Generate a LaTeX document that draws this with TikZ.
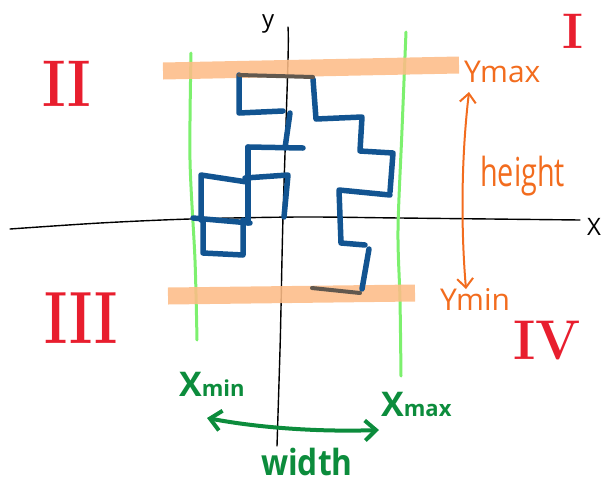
\documentclass[tikz,border=0pt]{standalone}
\usepackage{fontspec}
\setsansfont{Open Sans}
\usetikzlibrary{arrows.meta}
\definecolor{bandor}{RGB}{253,188,135}
\definecolor{lgreen}{RGB}{125,240,110}
\definecolor{dblue}{RGB}{18,84,145}
\definecolor{grayb}{RGB}{98,88,78}
\definecolor{ored}{RGB}{232,30,46}
\definecolor{otext}{RGB}{242,108,30}
\definecolor{gtext}{RGB}{12,140,60}
\begin{document}
\begin{tikzpicture}[x=1pt,y=-1pt,
  axis/.style={line width=1.4pt, black, line cap=round},
  band/.style={line width=17pt, bandor, opacity=0.88},
  gline/.style={line width=3pt, lgreen, line cap=round},
  blk/.style={line width=5.5pt, dblue, line cap=round, line join=round},
  gry/.style={line width=4pt, grayb, line cap=round},
  roman/.style={ored, inner sep=0, anchor=base west, font=\bfseries\fontsize{#1}{#1}\selectfont},
  otxt/.style={otext, inner sep=0, anchor=base west, font=\sffamily\fontsize{#1}{#1}\selectfont},
  gtxt/.style={gtext, inner sep=0, anchor=base west, font=\sffamily\bfseries\fontsize{#1}{#1}\selectfont},
  ktxt/.style={black, inner sep=0, anchor=base west, font=\sffamily\fontsize{#1}{#1}\selectfont},
  oarrow/.style={otext, line width=2pt, line cap=round,
    {Straight Barb[length=9pt,width=16pt]}-{Straight Barb[length=9pt,width=16pt]}},
  garrow/.style={gtext, line width=4pt, line cap=round,
    {Straight Barb[length=11pt,width=20pt]}-{Straight Barb[length=11pt,width=20pt]}}
]
\useasboundingbox (0,0) rectangle (603,483);
% axes
\draw[axis] plot[smooth] coordinates {(10,229) (100,223) (190,219) (300,217) (400,218) (580,220)};
\draw[axis] plot[smooth] coordinates {(288,27) (288,60) (283,217) (281,308) (280,350) (277,446)};
\node[ktxt=24] (xlab) at (587,235) {X};
\node[ktxt=24] (ylab) at (262,27) {y};
% green bounds
\draw[gline] plot[smooth] coordinates {(191,53) (190,160) (195,260) (197,340)};
\draw[gline] plot[smooth] coordinates {(406,32) (402,130) (398,230) (400,300) (401,376)};
% orange bands
\draw[band] (163,71) -- (459,65);
\draw[band] (168,296) -- (415,293);
% blue shapes
\draw[blk] (239,75) -- (239,113) -- (283,111);
\draw[blk] (290,113) -- (285,148);
\draw[blk] (248,147) -- (303,148);
\draw[blk] (248,147) -- (248,223);
\draw[blk] (245,178) -- (288,175) -- (284,217);
\draw[blk] (201,220) -- (201,175) -- (247,182);
\draw[blk] (193,218) -- (250,223);
\draw[blk] (203,220) -- (203,253) -- (243,255) -- (243,220);
\draw[blk] (313,79) -- (316,119) -- (362,117) -- (360,151) -- (393,153) -- (390,192);
\draw[blk] (390,195) -- (339,190) -- (341,243) -- (365,245);
\draw[blk] (369,249) -- (362,289);
% gray segments
\draw[gry] (239,75) -- (313,77);
\draw[gry] (312,288) -- (360,293);
% quadrant numerals
\node[roman=50] (q1) at (562,48) {I};
\node[roman=66] (q2) at (42,106) {\scalebox{0.85}[1]{II}};
\node[roman=74] (q3) at (44,343) {\scalebox{0.75}[1]{III}};
\node[roman=56] (q4) at (513,359) {\scalebox{0.95}[1]{IV}};
% height
\node[otxt=30] (ymax) at (464,82) {Ymax};
\node[otxt=30] (ymin) at (440,310) {Ymin};
\node[otxt=40] (hgt) at (480,186) {\scalebox{0.72}[1]{height}};
\coordinate (hT) at (469,92);
\coordinate (hB) at (466,289);
\draw[oarrow] (hT) .. controls (461,160) and (461,230) .. (hB);
% width
\node[gtxt=34] (xmin) at (179,396) {X\fontsize{22}{22}\selectfont min};
\node[gtxt=34] (xmax) at (381,416) {X\fontsize{22}{22}\selectfont max};
\node[gtxt=36] (wid) at (261,475) {\scalebox{0.88}[1]{width}};
\coordinate (wL) at (207,418);
\coordinate (wR) at (379,430);
\draw[garrow] (wL) .. controls (260,428) and (320,432) .. (wR);
\end{tikzpicture}
\end{document}
